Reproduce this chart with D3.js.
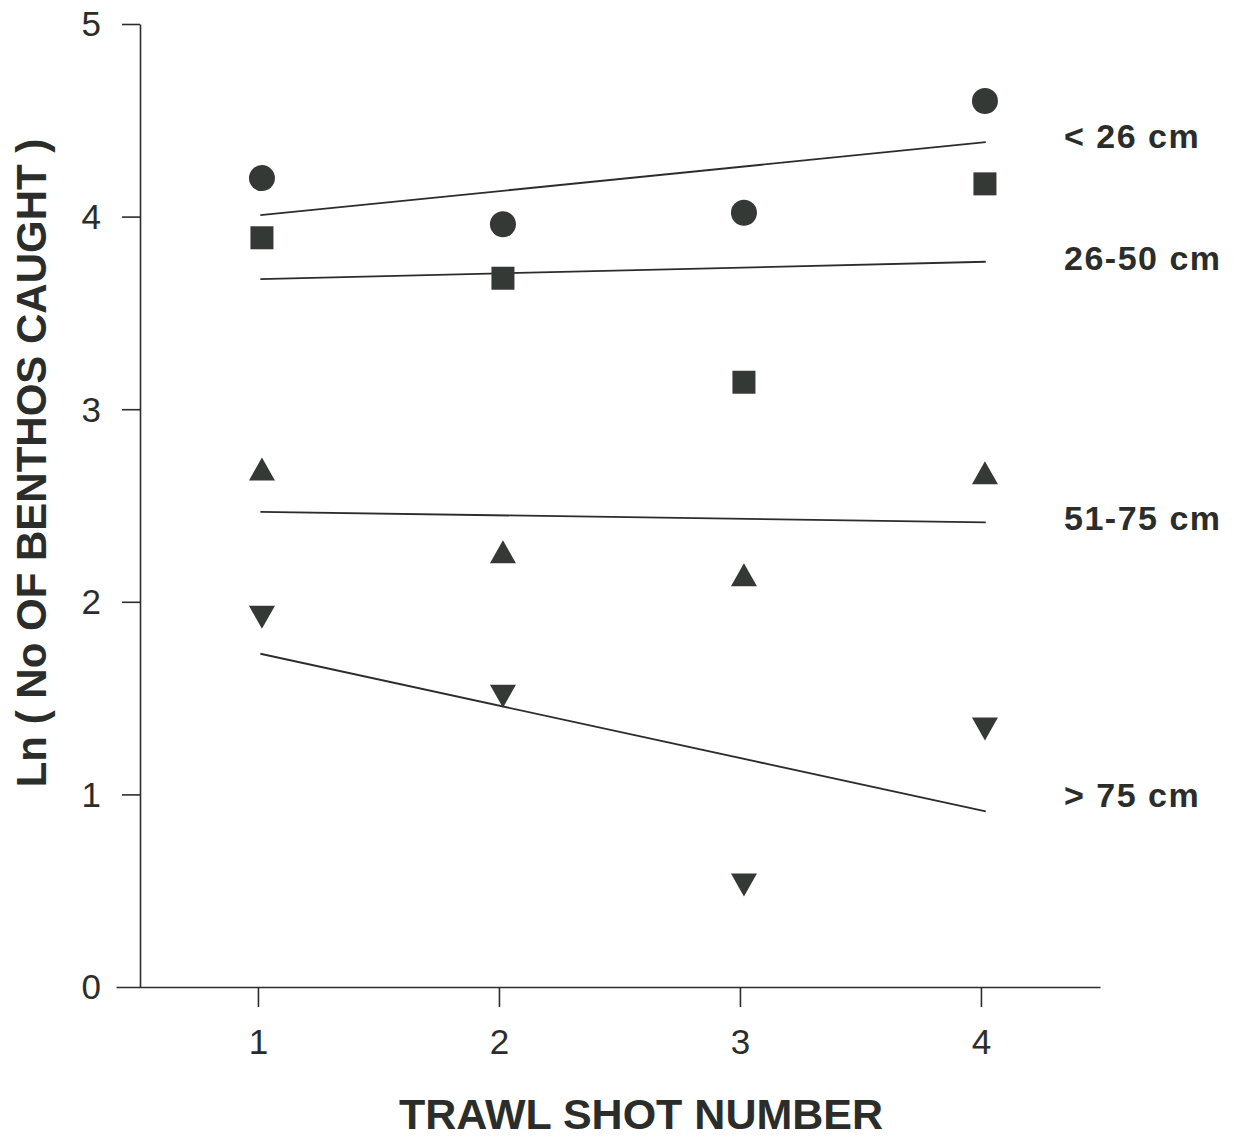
<!DOCTYPE html>
<html>
<head>
<meta charset="utf-8">
<script src="https://cdn.jsdelivr.net/npm/d3@7"></script>
<style>
  html, body { margin: 0; padding: 0; background: #fff; }
  svg { display: block; font-family: "Liberation Sans", Arial, sans-serif; }
</style>
</head>
<body>
<svg id="chart" width="1240" height="1145"></svg>
<script>
// Trawl shot number (x) and ln(number of benthos caught) per size class
const shots = [1, 2, 3, 4];
const sizeClasses = ["< 26 cm", "26-50 cm", "51-75 cm", "> 75 cm"];
const markerShapes = ["circle", "square", "triangleUp", "triangleDown"];
const lnLt26 = [4.20, 3.96, 4.02, 4.60];
const ln26to50 = [3.89, 3.68, 3.14, 4.17];
const ln51to75 = [2.69, 2.26, 2.14, 2.67];
const lnGt75 = [1.92, 1.51, 0.53, 1.34];
const seriesValues = [lnLt26, ln26to50, ln51to75, lnGt75];
// label heights (in ln units) for the size-class labels at the right
const labelLevels = [4.42, 3.785, 2.435, 1.0];
const yTicks = [0, 1, 2, 3, 4, 5];
const xTicks = [1, 2, 3, 4];

const ink = "#2b2d2b";
const markFill = "#353935";

const svg = d3.select("#chart");

const x = d3.scaleLinear().domain([0.411, 4.494]).range([116, 1100]);
const y = d3.scaleLinear().domain([0, 5]).range([987, 24]);
const axisX = 140;

// Y axis
const gy = svg.append("g").attr("transform", `translate(${axisX},0)`)
  .call(d3.axisLeft(y).tickValues(yTicks).tickSize(18).tickSizeOuter(0).tickPadding(21).tickFormat(d3.format("d")));
gy.select(".domain").attr("stroke", ink).attr("stroke-width", 1.6);
gy.selectAll(".tick line").attr("stroke", ink).attr("stroke-width", 1.6);
gy.selectAll(".tick text").attr("fill", ink).style("font-size", "35px").attr("dy", "0.34em");
gy.selectAll(".tick").filter(d => d === 0).select("line").remove();

// X axis
const gx = svg.append("g").attr("transform", `translate(0,${y(0)})`)
  .call(d3.axisBottom(x).tickValues(xTicks).tickSize(20).tickSizeOuter(0).tickPadding(22).tickFormat(d3.format("d")));
gx.select(".domain").attr("stroke", ink).attr("stroke-width", 1.6);
gx.selectAll(".tick line").attr("stroke", ink).attr("stroke-width", 1.6);
gx.selectAll(".tick text").attr("fill", ink).style("font-size", "35px").attr("dy", "0.72em");

// Axis titles
svg.append("text")
  .attr("x", 641).attr("y", 1129)
  .attr("text-anchor", "middle")
  .attr("fill", ink)
  .style("font-size", "43px").style("font-weight", "bold")
  .text("TRAWL SHOT NUMBER");

svg.append("text")
  .attr("transform", "translate(46,463) rotate(-90)")
  .attr("text-anchor", "middle")
  .attr("fill", ink)
  .style("font-size", "42px").style("font-weight", "bold")
  .text("Ln ( No OF BENTHOS CAUGHT )");

// Least-squares fit for each size class
function fit(xs, ys) {
  const mx = d3.mean(xs), my = d3.mean(ys);
  const sxy = d3.sum(xs, (v, i) => (v - mx) * (ys[i] - my));
  const sxx = d3.sum(xs, v => (v - mx) * (v - mx));
  const b = sxy / sxx;
  return { a: my - b * mx, b };
}

const fitStart = 1.01, fitEnd = 4.02;
const lineGen = d3.line().x(d => x(d[0])).y(d => y(d[1]));

seriesValues.forEach((vals, i) => {
  const f = fit(shots, vals);
  const pts = [fitStart, fitEnd].map(s => [s, f.a + f.b * s]);
  svg.append("path")
    .attr("d", lineGen(pts))
    .attr("fill", "none")
    .attr("stroke", ink)
    .attr("stroke-width", 1.8);
});

// Markers
const triW = 26, triH = 23, sq = 23, rad = 13;
function markerPath(shape) {
  if (shape === "triangleUp")
    return `M0,${-triH / 2}L${triW / 2},${triH / 2}L${-triW / 2},${triH / 2}Z`;
  if (shape === "triangleDown")
    return `M${-triW / 2},${-triH / 2}L${triW / 2},${-triH / 2}L0,${triH / 2}Z`;
  return null;
}

const markers = svg.append("g").attr("transform", "translate(4,0)");
seriesValues.forEach((vals, i) => {
  const shape = markerShapes[i];
  const g = markers.append("g");
  const pts = shots.map((s, j) => ({ s, v: vals[j] }));
  if (shape === "circle") {
    g.selectAll("circle").data(pts).join("circle")
      .attr("cx", d => x(d.s)).attr("cy", d => y(d.v)).attr("r", rad)
      .attr("fill", markFill);
  } else if (shape === "square") {
    g.selectAll("rect").data(pts).join("rect")
      .attr("x", d => x(d.s) - sq / 2).attr("y", d => y(d.v) - sq / 2)
      .attr("width", sq).attr("height", sq)
      .attr("fill", markFill);
  } else {
    g.selectAll("path").data(pts).join("path")
      .attr("transform", d => `translate(${x(d.s)},${y(d.v)})`)
      .attr("d", markerPath(shape))
      .attr("fill", markFill);
  }
});

// Size-class labels
svg.append("g").selectAll("text").data(sizeClasses).join("text")
  .attr("x", 1064)
  .attr("y", (d, i) => y(labelLevels[i]))
  .attr("dy", "0.36em")
  .attr("fill", ink)
  .style("font-size", "34px").style("font-weight", "bold")
  .style("letter-spacing", "1.5px")
  .text(d => d);
</script>
</body>
</html>
